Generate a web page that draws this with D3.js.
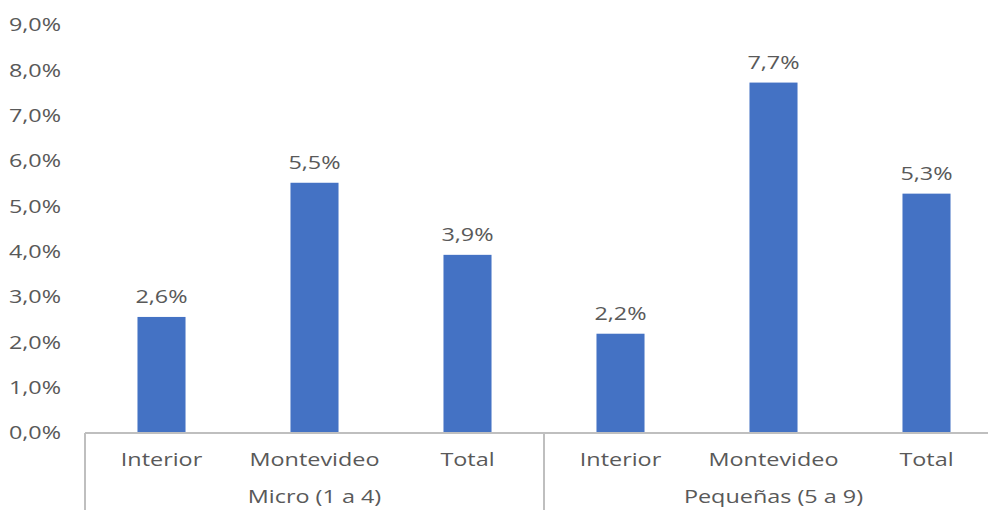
<!DOCTYPE html>
<html><head><meta charset="utf-8">
<script src="https://cdn.jsdelivr.net/npm/d3@7"></script>
<style>html,body{margin:0;padding:0;background:#fff;overflow:hidden}</style>
</head><body>
<svg id="c" width="988" height="510"></svg>
<script>
const groups = ["Micro (1 a 4)", "Pequeñas (5 a 9)"];
const categories = ["Interior", "Montevideo", "Total"];
const values = [[2.56, 5.52, 3.93], [2.19, 7.73, 5.28]];
const labels = [["2,6%", "5,5%", "3,9%"], ["2,2%", "7,7%", "5,3%"]];
const yTicks = [0, 1, 2, 3, 4, 5, 6, 7, 8, 9];

(function () {
const svg = d3.select("#c");
const font = "'Open Sans', sans-serif";
const grey = "#595959";
const fs = 18, sx = 1.3;
const plotLeft = 85, bandW = 153, plotTop = 25, plotBottom = 433;

const rows = [];
groups.forEach((g, gi) => categories.forEach((c, ci) => rows.push({g, gi, c, v: values[gi][ci], lab: labels[gi][ci], key: g + "|" + c})));

const x = d3.scaleBand().domain(rows.map(d => d.key)).range([plotLeft, plotLeft + bandW * rows.length]).paddingInner(0.686).paddingOuter(0.343);
const y = d3.scaleLinear().domain([0, 9]).range([plotBottom, plotTop]);

function txt(sel, fx, fy, anchor) {
  return sel.attr("transform", (d, i) => `translate(${fx(d, i)},${fy(d, i)}) scale(${sx},1)`)
    .attr("dy", "0.35em").attr("text-anchor", anchor)
    .attr("font-family", font).attr("font-size", fs).attr("fill", grey);
}

txt(svg.append("g").selectAll("text").data(yTicks).join("text"), () => 61, d => y(d), "end")
  .text(d => d3.format(".1f")(d).replace(".", ",") + "%");

svg.append("g").selectAll("rect").data(rows).join("rect")
  .attr("x", d => x(d.key)).attr("width", x.bandwidth())
  .attr("y", d => y(d.v)).attr("height", d => y(0) - y(d.v))
  .attr("fill", "#4472C4");

txt(svg.append("g").selectAll("text").data(rows).join("text"), d => x(d.key) + x.bandwidth() / 2, d => y(d.v) - 20, "middle")
  .text(d => d.lab);

const ax = svg.append("g").attr("stroke", "#BFBFBF").attr("stroke-width", 2);
ax.append("line").attr("x1", plotLeft).attr("x2", plotLeft + bandW * rows.length).attr("y1", plotBottom).attr("y2", plotBottom);
const groupEdges = [0, 3, 6].map(i => plotLeft + bandW * i);
ax.selectAll(".v").data(groupEdges).join("line").attr("class", "v")
  .attr("x1", d => d).attr("x2", d => d).attr("y1", plotBottom).attr("y2", 510);

txt(svg.append("g").selectAll("text").data(rows).join("text"), d => x(d.key) + x.bandwidth() / 2, () => 460, "middle")
  .text(d => d.c);

txt(svg.append("g").selectAll("text").data(groups).join("text"), (d, i) => plotLeft + bandW * (3 * i + 1.5), () => 497, "middle")
  .text(d => d);
})();
</script>
</body></html>
